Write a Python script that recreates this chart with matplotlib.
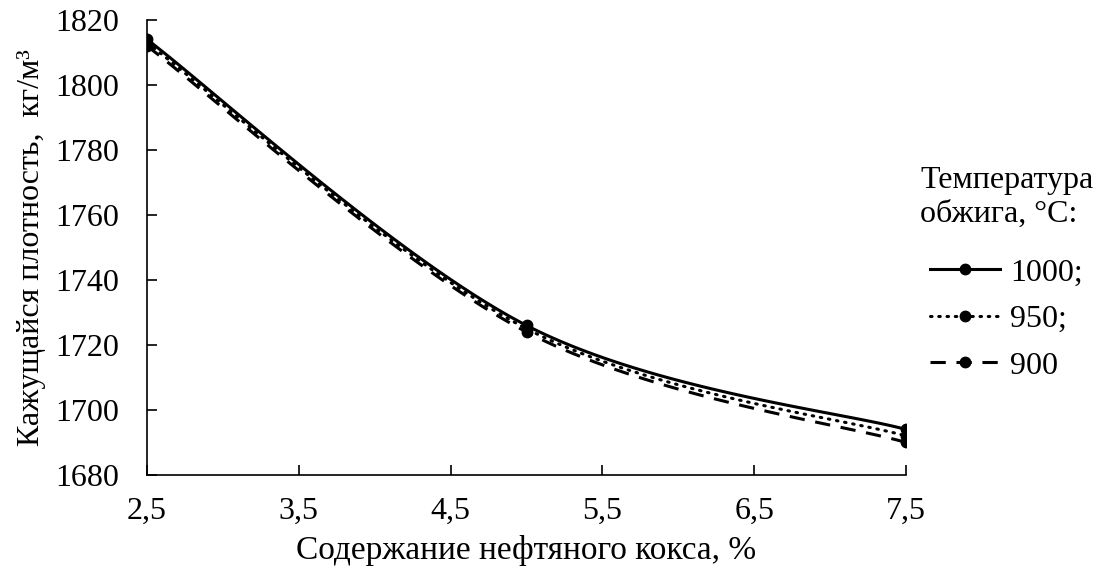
import numpy as np
import matplotlib
matplotlib.use("Agg")
import matplotlib.pyplot as plt
from matplotlib.lines import Line2D

plt.rcParams['font.family'] = ['Liberation Serif', 'DejaVu Serif']

x_vals = [2.5, 5.0, 7.5]
series_labels = ['1000;', '950;', '900']
y_1000 = [1814, 1726, 1694]
y_950 = [1813, 1725, 1692]
y_900 = [1812, 1724, 1690]
x_ticks = [2.5, 3.5, 4.5, 5.5, 6.5, 7.5]
x_ticklabels = ['2,5', '3,5', '4,5', '5,5', '6,5', '7,5']
y_ticks = [1680, 1700, 1720, 1740, 1760, 1780, 1800, 1820]

FS = 23
fig = plt.figure(figsize=(11.01, 5.72), dpi=100)
ax = fig.add_axes([0.1335, 0.1696, 0.6895, 0.7955])
ax.set_xlim(2.5, 7.5)
ax.set_ylim(1680, 1820)


def smooth(ax, xs, ys, n=60):
    pts = ax.transData.transform(np.column_stack([xs, ys]))
    P = np.vstack([pts[0], pts, pts[-1]])
    out = []
    for i in range(1, len(P) - 2):
        p0, p1 = P[i], P[i + 1]
        c1 = p0 + (P[i + 1] - P[i - 1]) / 6.0
        c2 = p1 - (P[i + 2] - P[i]) / 6.0
        t = np.linspace(0, 1, n)[:, None]
        seg = ((1 - t) ** 3) * p0 + 3 * ((1 - t) ** 2) * t * c1 + 3 * (1 - t) * t ** 2 * c2 + t ** 3 * p1
        out.append(seg if i == 1 else seg[1:])
    curve = np.vstack(out)
    return ax.transData.inverted().transform(curve)


styles = [
    dict(linestyle='-', lw=2.2),
    dict(linestyle=(0, (0.5, 2.2)), lw=2.2, dash_capstyle='round'),
    dict(linestyle=(0, (5, 3.5)), lw=2.2),
]
handles = []
for ys, lab, st in zip([y_1000, y_950, y_900], series_labels, styles):
    c = smooth(ax, x_vals, ys)
    ax.plot(c[:, 0], c[:, 1], color='black', **st)
    ax.plot(x_vals, ys, linestyle='none', marker='o', markersize=7.5, color='black')
    handles.append(Line2D([], [], color='black', marker='o', markersize=7.5, **st))

ax.set_xticks(x_ticks)
ax.set_xticklabels(x_ticklabels)
ax.set_yticks(y_ticks)
ax.tick_params(direction='in', length=7, width=1.2, labelsize=FS)
ax.tick_params(axis='y', pad=20)
ax.tick_params(axis='x', pad=16)
for s in ['top', 'right']:
    ax.spines[s].set_visible(False)
for s in ['left', 'bottom']:
    ax.spines[s].set_linewidth(1.2)

ax.set_xlabel('Содержание нефтяного кокса, %', fontsize=FS + 1, labelpad=6)
ax.set_ylabel('Кажущайся плотность,  кг/м³', fontsize=FS, labelpad=7)

fig.text(920 / 1101, 1 - 197.5 / 572, 'Температура\nобжига, °С:', fontsize=FS,
         ha='left', va='center', linespacing=1.25)
leg = ax.legend(handles, series_labels,
                loc='upper left', bbox_to_anchor=(930 / 1101, 1 - 258 / 572), bbox_transform=fig.transFigure,
                frameon=False, fontsize=FS, borderaxespad=0,
                handlelength=2.2, handletextpad=0.3, labelspacing=0.54, borderpad=0.0)

fig.savefig('out.png', dpi=100)
